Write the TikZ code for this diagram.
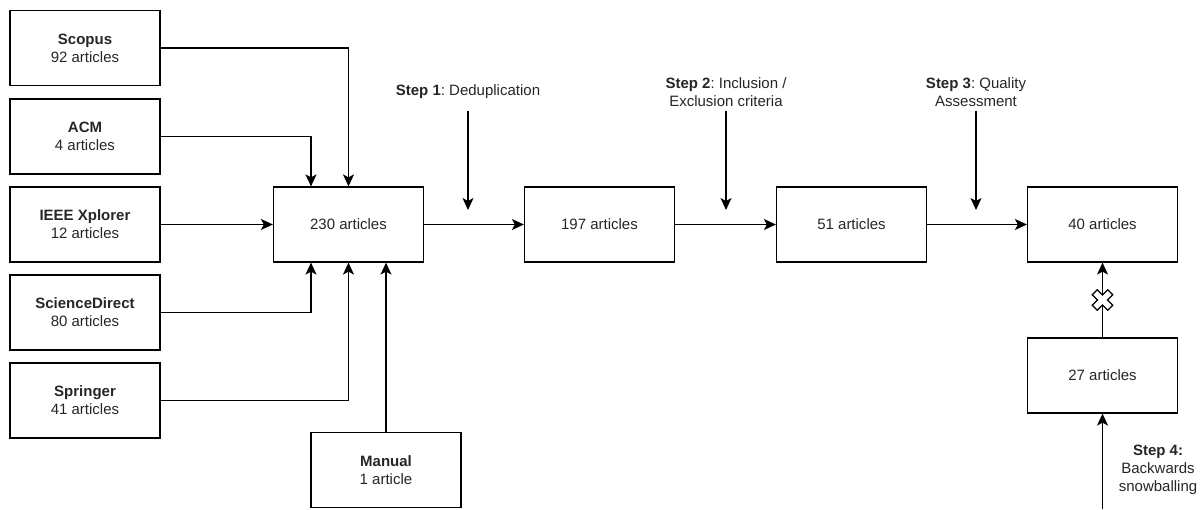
\documentclass[tikz,border=0pt]{standalone}
\usepackage{fontspec}
\setmainfont{Liberation Sans}
\usetikzlibrary{arrows.meta}
\frenchspacing
\begin{document}
\begin{tikzpicture}[x=1pt,y=-1pt,font=\fontsize{15}{18}\selectfont,
  box/.style={draw,line width=1.2pt,minimum width=150pt,minimum height=75pt,align=center,inner sep=0pt,text=black!85},
  arr/.style={-{Stealth[length=12pt,width=11pt,inset=3pt]},line width=1.2pt},
  steplabel/.style={align=center,text=black!85}]
\useasboundingbox (0,0) rectangle (1204,509);
% sources
\node[box] (scopus) at (85,48) {\textbf{Scopus}\\92 articles};
\node[box] (acm) at (85,136.5) {\textbf{ACM}\\4 articles};
\node[box] (ieee) at (85,224.5) {\textbf{IEEE Xplorer}\\12 articles};
\node[box] (sd) at (85,312.5) {\textbf{ScienceDirect}\\80 articles};
\node[box] (springer) at (85,400.5) {\textbf{Springer}\\41 articles};
\node[box] (manual) at (386,470) {\textbf{Manual}\\1 article};
% stages
\node[box] (hub) at (348.5,224.5) {230 articles};
\node[box] (dedup) at (599.5,224.5) {197 articles};
\node[box] (incl) at (851.5,224.5) {51 articles};
\node[box] (qual) at (1102.5,224.5) {40 articles};
\node[box] (snow) at (1102.5,375.5) {27 articles};
% steps
\node[steplabel] (s1) at (468,92) {\textbf{Step 1}: Deduplication};
\node[steplabel] (s2) at (726,92.5) {\textbf{Step 2}: Inclusion /\\Exclusion criteria};
\node[steplabel] (s3) at (976,92.5) {\textbf{Step 3}: Quality\\Assessment};
\node[steplabel] (s4) at (1158,470) {\textbf{Step 4:}\\Backwards\\snowballing};
\coordinate (s1tip) at (468,210);
\coordinate (s2tip) at (726,210);
\coordinate (s3tip) at (976,210);
\coordinate (s4tail) at (1102.5,509);
% connectors
\draw[arr] (scopus.east) -| (hub.north);
\draw[arr] (acm.east) -| ([xshift=-37.5pt]hub.north);
\draw[arr] (ieee) -- (hub);
\draw[arr] (sd.east) -| ([xshift=-37.5pt]hub.south);
\draw[arr] (springer.east) -| (hub.south);
\draw[arr] (manual.north) -- (manual.north |- hub.south);
\foreach \a/\b in {hub/dedup,dedup/incl,incl/qual} \draw[arr] (\a) -- (\b);
\draw[arr,shorten <=8pt] (s1.south) -- (s1tip);
\foreach \s in {s2,s3} \draw[arr] (\s.south) -- (\s tip);
\draw[arr] (snow) -- (qual);
\draw[arr] (s4tail) -- (snow);
% cross marker
\begin{scope}[shift={(1102.5,300)},rotate=45]
\draw[line width=1.2pt,fill=white] (-3.5,-11)--(3.5,-11)--(3.5,-3.5)--(11,-3.5)--(11,3.5)--(3.5,3.5)--(3.5,11)--(-3.5,11)--(-3.5,3.5)--(-11,3.5)--(-11,-3.5)--(-3.5,-3.5)--cycle;
\end{scope}
\end{tikzpicture}
\end{document}
